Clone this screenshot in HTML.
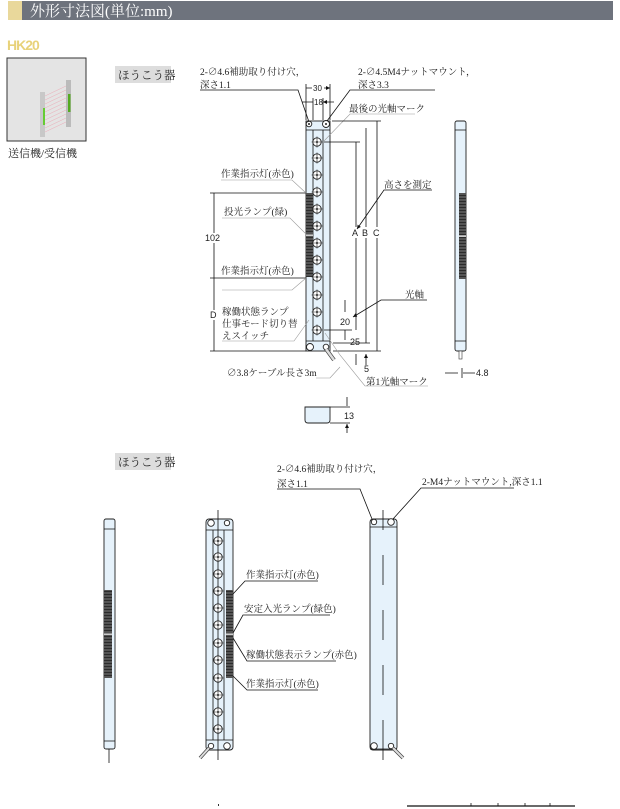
<!DOCTYPE html>
<html><head><meta charset="utf-8"><style>
html,body{margin:0;padding:0;background:#fff;}
svg{display:block;font-family:"Liberation Serif","Noto Serif CJK SC","Noto Sans CJK JP",serif;}
.t{font-size:9.5px;fill:#222;}
.s{font-family:"Liberation Sans",sans-serif;font-size:9px;fill:#222;}
.ln{stroke:#111;stroke-width:0.8;fill:none;}
.gl{stroke:#999;stroke-width:0.6;fill:none;}
.bar{fill:#e6f2fb;stroke:#222;stroke-width:0.9;}
.c{fill:#fff;stroke:#222;stroke-width:0.9;}
</style></head><body>
<svg width="620" height="809" viewBox="0 0 620 809" xmlns="http://www.w3.org/2000/svg">
<defs>
<marker id="a" markerWidth="6" markerHeight="6" refX="5" refY="3" orient="auto"><path d="M0,0.5 L5,3 L0,5.5z" fill="#111"/></marker>
<pattern id="stripe" width="8" height="3" patternUnits="userSpaceOnUse"><rect width="8" height="3" fill="#555"/><rect width="8" height="0.8" fill="#222"/></pattern>
<g id="circ"><circle r="4.2" class="c"/><path d="M-5.5,0H5.5M0,-5.5V5.5" stroke="#222" stroke-width="0.6"/><circle r="1" fill="#222"/></g>
</defs>
<!-- header -->
<rect x="8" y="1" width="14" height="19" fill="#e9d89b"/>
<rect x="22" y="1" width="591" height="19" fill="#6e737d"/>
<text x="30" y="16" style="font-size:15px;fill:#fff">外形寸法図(単位:mm)</text>
<text x="7" y="50" style="font-family:'Liberation Sans',sans-serif;font-size:14px;font-weight:bold;fill:#e8d27a;letter-spacing:-1px">HK20</text>
<!-- product image -->
<rect x="7" y="58" width="79" height="83" fill="#e4e4e4" stroke="#333" stroke-width="1"/>
<rect x="40" y="92" width="5" height="45" fill="#c8c8c8"/><rect x="43" y="108" width="2" height="17" fill="#6c3"/>
<rect x="66" y="80" width="5" height="47" fill="#bbb"/><rect x="68" y="94" width="2.5" height="18" fill="#5a2"/>
<g stroke="#e9a" stroke-width="0.4"><path d="M45,96L66,86M45,100L66,90M45,104L66,94M45,108L66,98M45,112L66,102M45,116L66,106M45,120L66,110M45,124L66,114M45,128L66,118M45,132L66,122"/></g>
<text x="8" y="157" class="t" style="font-size:11px">送信機/受信機</text>
<rect x="115" y="66" width="56" height="17" fill="#ddd"/>
<text x="118" y="79" class="t" style="font-size:11.5px">ほうこう器</text>

<!-- top main drawing -->
<rect x="306" y="121" width="24" height="230" class="bar"/>
<path d="M306,130H330M306,341H330M313,130V341M323,130V341" class="ln" stroke-width="0.6"/>
<rect x="306" y="193" width="7" height="84" fill="url(#stripe)"/>
<rect x="306" y="234.5" width="7" height="1.2" fill="#fff"/>
<g transform="translate(309,124)"><circle r="2.8" class="c"/><circle r="1" fill="#222"/></g>
<g transform="translate(326,124)"><circle r="3.5" class="c" stroke-width="1.6"/><circle r="1" fill="#222"/></g>
<g transform="translate(310,347)"><circle r="3.5" class="c" stroke-width="1.6"/></g>
<g transform="translate(326,347)"><circle r="2.8" class="c"/></g>
<path d="M326,349L334,360" stroke="#444" stroke-width="4"/><path d="M326,349L334,360" stroke="#ddd" stroke-width="2.5"/>
<use href="#circ" x="317" y="142"/><use href="#circ" x="317" y="158"/><use href="#circ" x="317" y="175"/><use href="#circ" x="317" y="192"/><use href="#circ" x="317" y="209"/><use href="#circ" x="317" y="226"/><use href="#circ" x="317" y="243"/><use href="#circ" x="317" y="260"/><use href="#circ" x="317" y="277"/><use href="#circ" x="317" y="295"/><use href="#circ" x="317" y="312"/><use href="#circ" x="317" y="330"/>
<!-- top dims -->
<path d="M306,84V120M330,84V120M313,98V120M323,98V120" class="ln" stroke-width="0.6"/>
<path d="M312,88H306M324,88H330" class="ln" marker-end="url(#a)"/>
<text x="313" y="91" class="s" style="font-size:8px">30</text>
<path d="M302,102H313M334,102H323" class="ln" marker-end="url(#a)"/>
<text x="314" y="105" class="s" style="font-size:8px">18</text>
<text x="200" y="75" class="t">2-∅4.6補助取り付け穴，</text>
<text x="200" y="88" class="t">深さ1.1</text>
<path d="M200,90H298L309,122" class="ln"/>
<text x="358" y="75" class="t">2-∅4.5M4ナットマウント，</text>
<text x="358" y="88" class="t">深さ3.3</text>
<path d="M435,90H350L327,121" class="ln"/>
<text x="349" y="112" class="t">最後の光軸マーク</text>
<path d="M415,114H350L324,141" class="gl"/>
<!-- A B C -->
<path d="M332,121H381M324,142H360M333,343H370M333,351H381" class="ln" stroke-width="0.6"/>
<path d="M356,142V330M366,128V343M377,121V351" class="ln"/>
<rect x="351" y="227" width="32" height="11" fill="#fff"/>
<text x="352" y="236" class="s">A</text><text x="362" y="236" class="s">B</text><text x="373" y="236" class="s">C</text>
<text x="384" y="188" class="t">高さを測定</text>
<path d="M432,190H384L357,229" class="ln" marker-end="url(#a)"/>
<text x="405" y="298" class="t">光軸</text>
<path d="M427,300H381L353,317" class="ln" marker-end="url(#a)"/>
<path d="M324,330H352M345,300V312M345,340V330" class="ln" stroke-width="0.6"/>
<text x="340" y="325" class="s">20</text><text x="350" y="345" class="s">25</text>
<path d="M356,365V354M366,365V354" class="ln" marker-end="url(#a)"/>
<text x="364" y="372" class="s">5</text>
<text x="366" y="385" class="t">第1光軸マーク</text>
<path d="M428,386H365L340,355L325,333" class="gl"/>
<text x="227" y="376" class="t">∅3.8ケーブル長さ3m</text>
<path d="M316,378H330L340,367" class="gl"/>
<!-- left dims -->
<path d="M210,193H306M210,278H306M210,351H306" class="ln" stroke-width="0.7"/>
<path d="M214,193V278M214,278V351" class="ln"/>
<rect x="204" y="233" width="20" height="10" fill="#fff"/>
<text x="205" y="241" class="s">102</text>
<rect x="209" y="310" width="10" height="10" fill="#fff"/>
<text x="210" y="318" class="s">D</text>
<text x="221" y="177" class="t">作業指示灯(赤色)</text>
<path d="M221,180H292L306,193" class="gl"/>
<text x="224" y="215" class="t">投光ランプ(緑)</text>
<path d="M222,218H290L306,234" class="gl"/>
<text x="221" y="274" class="t">作業指示灯(赤色)</text>
<path d="M222,290H292L306,278" class="gl"/>
<text x="222" y="315" class="t">稼働状態ランプ</text>
<text x="222" y="327" class="t">仕事モード切り替</text>
<text x="222" y="339" class="t">えスイッチ</text>
<path d="M222,341H294L309,320" class="gl"/>
<!-- side view top -->
<rect x="455" y="121" width="11" height="230" rx="2" class="bar"/>
<path d="M455,130H466M455,341H466" class="ln" stroke-width="0.6"/>
<rect x="459" y="193" width="7" height="86" fill="url(#stripe)"/>
<rect x="459" y="235.5" width="7" height="1.2" fill="#fff"/>
<rect x="459" y="351" width="3" height="8" fill="#fff" stroke="#333" stroke-width="0.6"/>
<path d="M445,373H458M475,373H463M462,368V378" class="ln" stroke-width="0.7"/>
<text x="476" y="376" class="s">4.8</text>
<!-- cap -->
<path d="M305,407H330V420Q330,423 327,423H308Q305,423 305,420Z" class="bar"/>
<path d="M330,407H350M330,423H350" class="ln" stroke-width="0.6"/>
<path d="M347,397V406M347,433V424" class="ln" marker-end="url(#a)"/>
<text x="344" y="419" class="s">13</text>

<!-- bottom section -->
<rect x="115" y="453" width="56" height="17" fill="#ddd"/>
<text x="118" y="466" class="t" style="font-size:11.5px">ほうこう器</text>
<!-- left side -->
<rect x="104" y="519" width="11" height="230" rx="2" class="bar"/>
<path d="M104,529H115M104,741H115" class="ln" stroke-width="0.6"/>
<rect x="104" y="590" width="8" height="88" fill="url(#stripe)"/>
<rect x="104" y="633.5" width="8" height="1.2" fill="#fff"/>
<path d="M109,749V763" class="ln"/>
<!-- middle front -->
<rect x="206" y="519" width="27" height="231" rx="3" class="bar"/>
<path d="M206,530H233M206,740H233M213,530V740M224,530V740M218,510V760" class="ln" stroke-width="0.6"/>
<rect x="226" y="590" width="7" height="88" fill="url(#stripe)"/>
<rect x="226" y="633.5" width="7" height="1.2" fill="#fff"/>
<g transform="translate(211,523)"><circle r="3.3" class="c" stroke-width="1.5"/></g>
<g transform="translate(227,523)"><circle r="2.7" class="c"/></g>
<g transform="translate(211,746)"><circle r="2.7" class="c"/></g>
<g transform="translate(227,746)"><circle r="3.3" class="c" stroke-width="1.5"/></g>
<path d="M209,748L200,758" stroke="#444" stroke-width="3.5"/><path d="M209,748L200,758" stroke="#ddd" stroke-width="2"/>
<use href="#circ" x="218" y="541"/><use href="#circ" x="218" y="557"/><use href="#circ" x="218" y="574"/><use href="#circ" x="218" y="591"/><use href="#circ" x="218" y="608"/><use href="#circ" x="218" y="625"/><use href="#circ" x="218" y="643"/><use href="#circ" x="218" y="660"/><use href="#circ" x="218" y="678"/><use href="#circ" x="218" y="695"/><use href="#circ" x="218" y="712"/><use href="#circ" x="218" y="729"/>
<text x="246" y="578" class="t">作業指示灯(赤色)</text>
<path d="M318,581H245L233,594" class="ln" stroke-width="0.6"/>
<text x="244" y="612" class="t">安定入光ランプ(緑色)</text>
<path d="M330,615H243L233,633" class="ln" stroke-width="0.6"/>
<text x="246" y="658" class="t">稼働状態表示ランプ(赤色)</text>
<path d="M336,661H247L233,638" class="ln" stroke-width="0.6"/>
<text x="246" y="687" class="t">作業指示灯(赤色)</text>
<path d="M318,690H247L233,676" class="ln" stroke-width="0.6"/>
<!-- right bar -->
<rect x="370" y="519" width="27" height="231" rx="3" class="bar"/>
<path d="M370,527H397M370,749H397" class="ln" stroke-width="0.6"/>
<path d="M383,510V530M383,555V585M383,610V640M383,665V695M383,720V760" class="ln"/>
<g transform="translate(374,522)"><circle r="2.7" class="c"/></g>
<g transform="translate(391,522)"><circle r="3.3" class="c" stroke-width="1.5"/></g>
<g transform="translate(374,746)"><circle r="3.3" class="c" stroke-width="1.5"/></g>
<g transform="translate(391,746)"><circle r="2.7" class="c"/></g>
<path d="M393,748L403,758" stroke="#444" stroke-width="3.5"/><path d="M393,748L403,758" stroke="#ddd" stroke-width="2"/>
<text x="277" y="472" class="t">2-∅4.6補助取り付け穴，</text>
<text x="277" y="487" class="t">深さ1.1</text>
<path d="M277,489H360L372,519" class="ln" stroke-width="0.6"/>
<text x="422" y="485" class="t">2-M4ナットマウント,深さ1.1</text>
<path d="M514,488H421L393,519" class="ln" stroke-width="0.6"/>
<!-- bottom line -->
<path d="M407,806H575" stroke="#111" stroke-width="1.2"/>
<path d="M471,803V806M498,803V806M525,803V806M550,803V806" stroke="#111" stroke-width="0.8"/>
<rect x="218" y="804" width="1" height="2" fill="#333"/>
</svg>
</body></html>
